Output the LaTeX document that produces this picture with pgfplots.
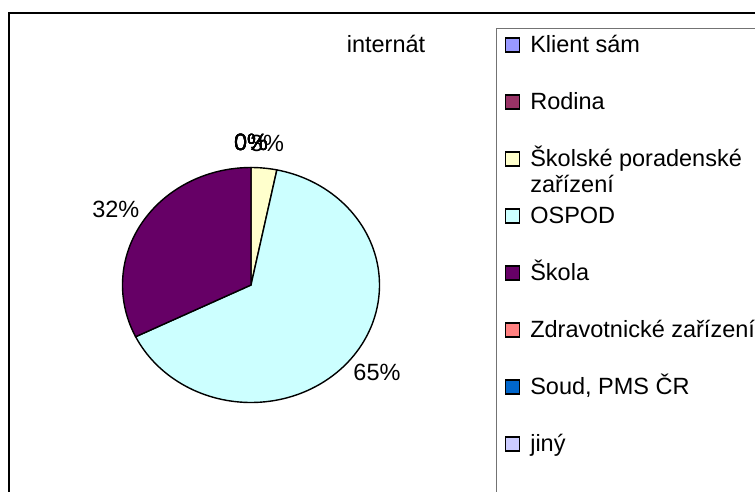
\documentclass[border=0pt]{standalone}
\usepackage{pgfplots}
\pgfplotsset{compat=1.18}
\usepackage{pgfplotstable}
\usepackage{fontspec}
\setmainfont{Liberation Sans}

\definecolor{cKlient}{HTML}{9999FF}
\definecolor{cRodina}{HTML}{993366}
\definecolor{cSkolske}{HTML}{FFFFCC}
\definecolor{cOSPOD}{HTML}{CCFFFF}
\definecolor{cSkola}{HTML}{660066}
\definecolor{cZdrav}{HTML}{FF8080}
\definecolor{cSoud}{HTML}{0066CC}
\definecolor{cJiny}{HTML}{CCCCFF}

% counts per source (internat)
\pgfplotstableread[col sep=comma]{
val,col
0,cKlient
0,cRodina
1,cSkolske
20,cOSPOD
10,cSkola
0,cZdrav
0,cSoud
0,cJiny
}\piedata

% pie geometry in picture pixels
\def\cx{251}\def\cy{285}\def\rx{128.5}\def\ry{117.5}

\begin{document}
\begin{tikzpicture}[font=\fontsize{23.5}{26}\selectfont]
\useasboundingbox (0,0) rectangle (755pt,491pt);
\begin{axis}[
    at={(0,0)}, anchor=south west,
    scale only axis, width=755pt, height=491pt,
    xmin=0, xmax=755, ymin=0, ymax=491,
    y dir=reverse, hide axis,
    legend cell align=left,
    legend style={at={(axis cs:505,33.5)}, anchor=north west,
        draw=none, fill=none, inner sep=0pt, outer sep=0pt,
        font=\fontsize{23.5}{26}\selectfont,
        row sep=34pt, column sep=10pt,
        nodes={inner sep=0pt, text height=19pt, text depth=4pt}},
    legend image code/.code={\draw[#1, draw=black, line width=1.3pt] (0pt,-7pt) rectangle (14pt,7pt);},
]
\addlegendimage{fill=cKlient}
\addlegendimage{fill=cRodina}
\addlegendimage{fill=cSkolske}
\addlegendimage{fill=cOSPOD}
\addlegendimage{fill=cSkola}
\addlegendimage{fill=cZdrav}
\addlegendimage{fill=cSoud}
\addlegendimage{fill=cJiny}

\pgfplotstablegetrowsof{\piedata}
\pgfmathtruncatemacro\nrows{\pgfplotsretval-1}
\def\total{0}
\pgfplotsforeachungrouped \i in {0,...,\nrows}{%
  \pgfplotstablegetelem{\i}{val}\of\piedata
  \pgfmathsetmacro\total{\total+\pgfplotsretval}%
}
\def\acc{0}
\pgfplotsforeachungrouped \i in {0,...,\nrows}{%
  \pgfplotstablegetelem{\i}{val}\of\piedata \let\v\pgfplotsretval
  \pgfplotstablegetelem{\i}{col}\of\piedata \let\c\pgfplotsretval
  \pgfmathsetmacro\a{90-360*\acc/\total}%
  \pgfmathsetmacro\b{90-360*(\acc+\v)/\total}%
  \pgfmathsetmacro\m{(\a+\b)/2}%
  \pgfmathtruncatemacro\pct{round(100*\v/\total)}%
  \pgfmathsetmacro\lx{\cx+1.24*\rx*cos(\m)}%
  \pgfmathsetmacro\ly{\cy-1.21*\ry*sin(\m)}%
  \ifdim\v pt>0pt
    \edef\tmp{\noexpand\addplot[forget plot, fill=\c, draw=black, line width=1.4pt,
      domain=\b:\a, samples=120]
      ({\cx+\rx*cos(x)},{\cy-\ry*sin(x)}) -- (axis cs:\cx,\cy) -- cycle;}\tmp
  \fi
  \edef\tmp{\noexpand\node at (axis cs:\lx,\ly) {\pct\noexpand\%};}\tmp
  \pgfmathsetmacro\acc{\acc+\v}%
}

\node at (axis cs:386,44) {internát};
\draw[line width=2pt] (axis cs:9,520) -- (axis cs:9,13) -- (axis cs:800,13);
\draw[black!55, line width=0.9pt] (axis cs:496,520) -- (axis cs:496,28) -- (axis cs:800,28);

\legend{Klient sám, Rodina,
  {\smash{\begin{tabular}[t]{@{}l@{}}Školské poradenské\\zařízení\end{tabular}}},
  OSPOD, Škola, Zdravotnické zařízení, {Soud, PMS ČR}, jiný}
\end{axis}
\end{tikzpicture}
\end{document}
